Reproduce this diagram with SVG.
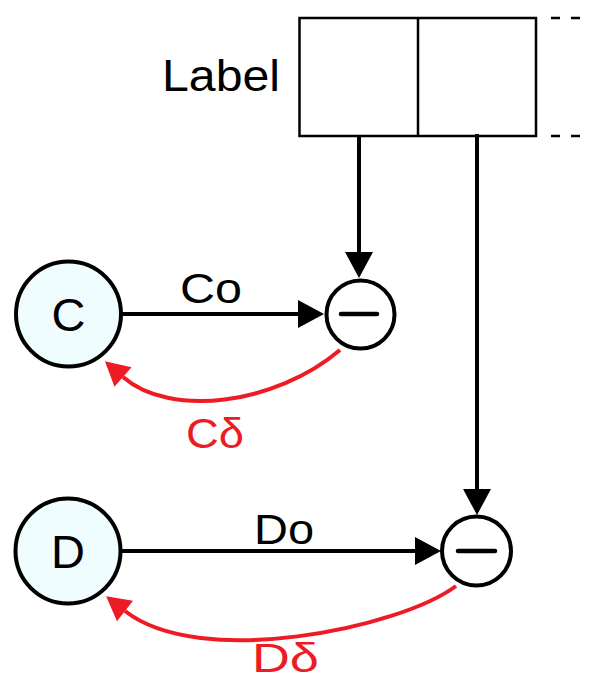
<svg xmlns="http://www.w3.org/2000/svg" width="589" height="682" viewBox="0 0 589 682">
  <style>
    .txt { font-family: "Liberation Sans", Arial, sans-serif; fill: #000; }
    .red { fill: #ed1c24; }
    .node { fill: #effdfe; stroke: #000; stroke-width: 4; }
    .op { fill: #fff; stroke: #000; stroke-width: 4; }
    .bar { stroke: #000; stroke-width: 4.5; stroke-linecap: round; }
    .edge { fill: none; stroke: #000; stroke-width: 4; }
    .fb { fill: none; stroke: #ed1c24; stroke-width: 4; }
    .box { fill: #fff; stroke: #000; stroke-width: 2.5; }
    .dash { stroke: #000; stroke-width: 2.5; stroke-dasharray: 9 11; }
  </style>
  <defs>
    <marker id="ah" markerUnits="userSpaceOnUse" markerWidth="27" markerHeight="28" refX="0" refY="14" orient="auto" overflow="visible">
      <path d="M0,0 L26,14 L0,28 z" fill="#000"/>
    </marker>
    <marker id="ahr" markerUnits="userSpaceOnUse" markerWidth="25" markerHeight="26" refX="0" refY="13" orient="auto" overflow="visible">
      <path d="M0,0 L24,13 L0,26 z" fill="#ed1c24"/>
    </marker>
  </defs>

  <g id="label-array">
    <text class="txt" x="162" y="91" font-size="44" textLength="118" lengthAdjust="spacingAndGlyphs">Label</text>
    <rect class="box" x="299.5" y="18" width="236.5" height="118"/>
    <line class="box" x1="418" y1="18" x2="418" y2="136"/>
    <line class="dash" x1="551" y1="18" x2="589" y2="18"/>
    <line class="dash" x1="551" y1="136" x2="589" y2="136"/>
  </g>

  <g id="node-C">
    <circle class="node" cx="68.5" cy="314" r="52.5"/>
    <text class="txt" x="68.5" y="331" font-size="47" text-anchor="middle">C</text>
  </g>

  <g id="node-D">
    <circle class="node" cx="68" cy="551" r="52.5"/>
    <text class="txt" x="68" y="568" font-size="47" text-anchor="middle">D</text>
  </g>

  <g id="op-C">
    <circle class="op" cx="360.5" cy="314.5" r="34"/>
    <line class="bar" x1="341" y1="314" x2="377" y2="314"/>
  </g>

  <g id="op-D">
    <circle class="op" cx="476.5" cy="551" r="34.5"/>
    <line class="bar" x1="458" y1="551" x2="495" y2="551"/>
  </g>

  <g id="connectors">
    <line class="edge" x1="123" y1="314" x2="298" y2="314" marker-end="url(#ah)"/>
    <line class="edge" x1="122" y1="551" x2="415" y2="551" marker-end="url(#ah)"/>
    <line class="edge" x1="359" y1="135" x2="359" y2="252" stroke-width="4.5" marker-end="url(#ah)"/>
    <line class="edge" x1="477" y1="134" x2="477" y2="489" stroke-width="4.5" marker-end="url(#ah)"/>
    <path class="fb" d="M 340 350 C 275 405, 170 418, 123 377" marker-end="url(#ahr)"/>
    <path class="fb" d="M 456 586 C 400 628, 200 670, 125 611" marker-end="url(#ahr)"/>
    <text class="txt" x="180" y="303" font-size="42" textLength="62" lengthAdjust="spacingAndGlyphs">Co</text>
    <text class="txt red" x="186" y="448" font-size="42" textLength="58" lengthAdjust="spacingAndGlyphs">Cδ</text>
    <text class="txt" x="254" y="544" font-size="42" textLength="60" lengthAdjust="spacingAndGlyphs">Do</text>
    <text class="txt red" x="252" y="672" font-size="40" textLength="67" lengthAdjust="spacingAndGlyphs">Dδ</text>
  </g>
</svg>
